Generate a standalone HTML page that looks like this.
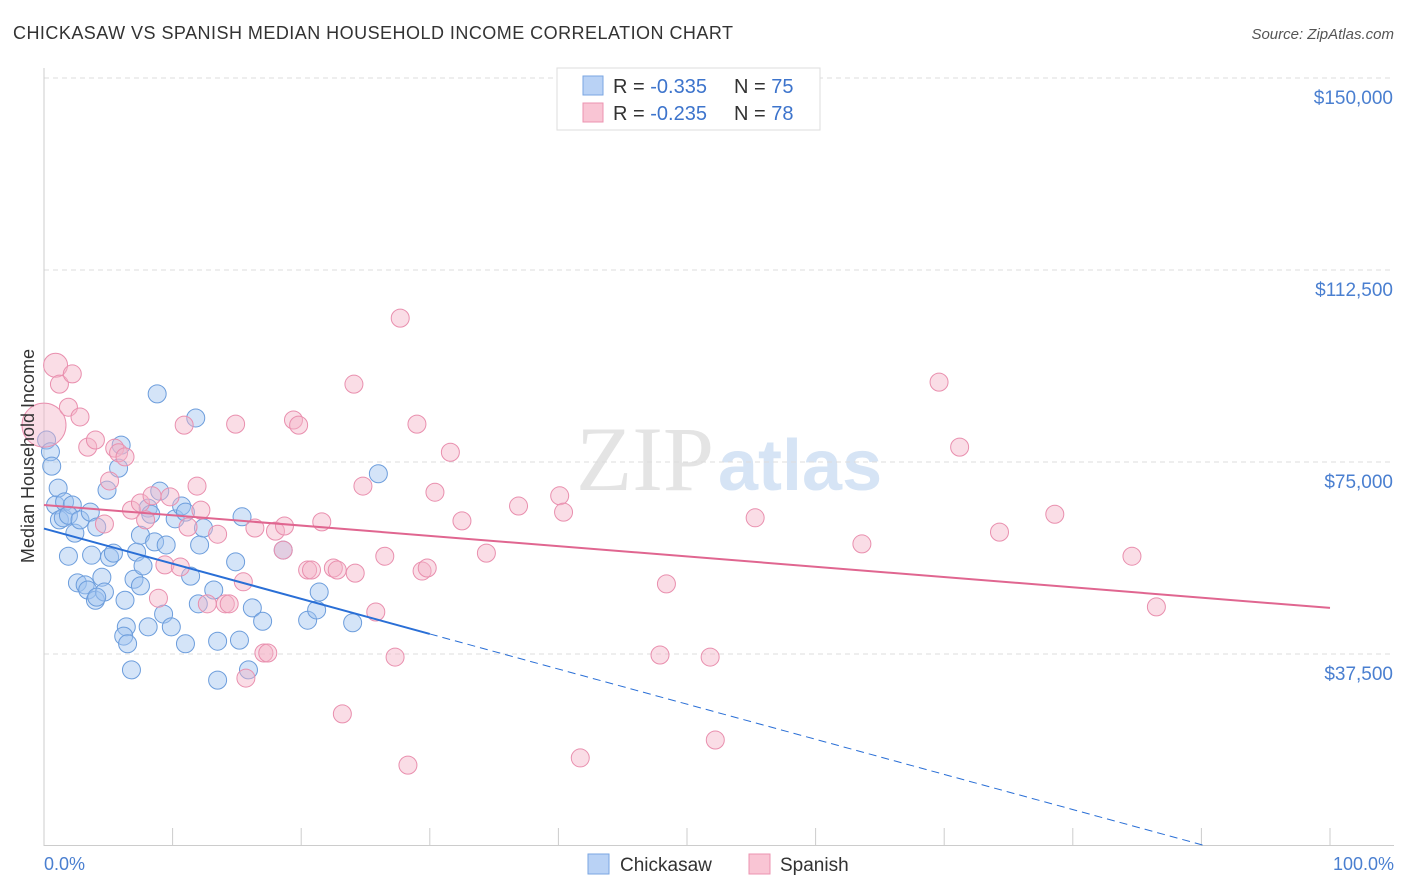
<!DOCTYPE html>
<html><head><meta charset="utf-8">
<style>
body{margin:0;background:#fff;font-family:"Liberation Sans",sans-serif;}
#wrap{position:relative;width:1406px;height:892px;overflow:hidden;}
</style></head>
<body>
<div id="wrap">
<svg id="svg" width="1406" height="892" xmlns="http://www.w3.org/2000/svg">
<text x="13" y="39" font-size="18" fill="#333" textLength="720" lengthAdjust="spacing">CHICKASAW VS SPANISH MEDIAN HOUSEHOLD INCOME CORRELATION CHART</text>
<text x="1394" y="39" font-size="15" fill="#555" font-style="italic" text-anchor="end">Source: ZipAtlas.com</text>
<text x="714" y="490" font-size="92" fill="#e4e4e4" text-anchor="end" font-family="Liberation Serif">ZIP</text>
<text x="718" y="490" font-size="72" fill="#d6e4f5" font-weight="bold">atlas</text>
<g id="grid"></g>
<g id="axes"></g>
<g id="pts"></g>
<g id="trend"></g>
<text transform="translate(34,456) rotate(-90)" font-size="18" fill="#333" text-anchor="middle">Median Household Income</text>
<text x="44" y="870" font-size="18" fill="#4a7fd0">0.0%</text>
<text x="1394" y="870" font-size="18" fill="#4a7fd0" text-anchor="end">100.0%</text>
<g>
<rect x="557" y="68" width="263" height="62" fill="#fff" stroke="#ddd"/>
<rect x="583" y="76" width="20" height="19" fill="#b9d2f5" stroke="#7aa6e2"/>
<rect x="583" y="103" width="20" height="19" fill="#f9c5d4" stroke="#ec93b0"/>
<text x="613" y="93" font-size="20" fill="#333">R = <tspan fill="#3d74cc">-0.335</tspan></text>
<text x="734" y="93" font-size="20" fill="#333">N = <tspan fill="#3d74cc">75</tspan></text>
<text x="613" y="120" font-size="20" fill="#333">R = <tspan fill="#3d74cc">-0.235</tspan></text>
<text x="734" y="120" font-size="20" fill="#333">N = <tspan fill="#3d74cc">78</tspan></text>
</g>
<g>
<rect x="588" y="854" width="21" height="20" fill="#b9d2f5" stroke="#7aa6e2"/>
<text x="620" y="871" font-size="19" fill="#333">Chickasaw</text>
<rect x="749" y="854" width="21" height="20" fill="#f9c5d4" stroke="#ec93b0"/>
<text x="780" y="871" font-size="19" fill="#333">Spanish</text>
</g>
</svg>
</div>
<script>
const yTicks=[37500,75000,112500,150000];
const yTickLabels=["$37,500","$75,000","$112,500","$150,000"];
const xTicks=[0,10,20,30,40,50,60,70,80,90,100];
const chickasawX=[0.2,0.5,0.6,1.1,0.9,1.2,1.6,1.5,2.2,1.9,2.4,2.8,3.6,4.1,1.9,3.7,2.6,3.2,3.4,4.0,4.5,4.7,4.1,4.9,5.1,5.4,5.8,6.0,6.3,6.4,6.2,6.5,6.8,7.0,7.2,7.5,7.5,7.7,8.1,8.1,8.3,8.6,8.8,9.0,9.3,9.5,9.9,10.2,10.7,11.0,11.0,11.4,11.8,12.0,12.1,12.4,13.2,13.5,13.5,14.9,15.2,15.4,15.9,16.2,17.0,18.6,20.5,21.2,21.4,24.0,26.0];
const chickasawY=[79.3,77.0,74.2,69.9,66.6,63.7,67.2,64.1,66.6,64.6,61.1,63.7,65.2,62.3,56.6,56.8,51.4,51.0,50.0,48.0,52.5,49.6,48.6,69.5,56.4,57.2,73.8,78.3,48.0,42.8,41.0,39.5,34.4,52.1,57.4,60.7,50.8,54.7,42.8,66.0,64.8,59.4,88.3,69.3,45.3,58.8,42.8,63.9,66.4,65.2,39.5,52.7,83.6,47.3,58.8,62.1,50.0,32.4,40.0,55.5,40.2,64.3,34.4,46.5,43.9,57.8,44.1,46.1,49.6,43.6,72.7];
const spanishX=[0.9,0.0,1.2,2.2,1.9,2.8,3.4,4.0,4.7,5.5,5.8,6.3,5.1,6.8,7.5,7.9,8.4,8.9,9.4,9.8,10.6,10.9,11.2,11.9,12.2,12.7,13.5,14.1,14.4,14.9,15.5,15.7,16.4,17.1,17.4,18.0,18.7,18.6,19.4,19.8,20.5,20.8,21.6,22.5,22.8,23.2,24.1,24.2,24.8,25.8,26.5,27.3,27.7,28.3,29.0,29.4,29.8,30.4,31.6,32.5,34.4,36.9,40.1,40.4,41.7,47.9,48.4,51.8,52.2,55.3,63.6,69.6,71.2,74.3,78.6,84.6,86.5];
const spanishY=[93.9,82.2,90.2,92.2,85.7,83.8,77.9,79.3,62.9,77.7,76.8,76.0,71.3,65.6,67.0,63.7,68.4,48.4,54.9,68.2,54.5,82.2,62.3,70.3,65.6,47.3,60.9,47.3,47.3,82.4,51.6,32.8,62.1,37.7,37.7,61.5,62.5,57.8,83.2,82.2,53.9,53.9,63.3,54.3,53.9,25.8,90.2,53.3,70.3,45.7,56.6,36.9,103.1,15.8,82.4,53.7,54.3,69.1,76.9,63.5,57.2,66.4,68.4,65.2,17.2,37.3,51.2,36.9,20.7,64.1,59.0,90.6,77.9,61.3,64.8,56.6,46.7];
const spanishR=[12,22];
const chickasawTrend=[62.0,-0.686];
const spanishTrend=[66.6,-0.201];
const NS="http://www.w3.org/2000/svg";
const X=p=>44+p*12.86;
function yv(k){return 846-k*192/37.5;}
function el(t,a,parent){const e=document.createElementNS(NS,t);for(const k in a)e.setAttribute(k,a[k]);document.getElementById(parent).appendChild(e);return e;}
yTicks.forEach((t,i)=>{
 const y=yv(t/1000);
 const g=el('line',{x1:44,x2:1394,y1:y,y2:y,stroke:'#ddd','stroke-dasharray':'5,4'},'grid');
 
 
 const tx=el('text',{x:1393,y:y+26,'font-size':19,fill:'#4a7fd0','text-anchor':'end'},'grid');
 tx.textContent=yTickLabels[i];
 
 
});
const tl=el('line',{x1:44,x2:1394,y1:78,y2:78,stroke:'#ddd','stroke-dasharray':'5,4'},'grid');


const ya=el('line',{x1:44,x2:44,y1:68,y2:846,stroke:'#ccc'},'axes');


const xa=el('line',{x1:44,x2:1394,y1:845.5,y2:845.5,stroke:'#ccc'},'axes');


xTicks.forEach(t=>{
 const tk=el('line',{x1:X(t),x2:X(t),y1:828,y2:846,stroke:'#ccc'},'axes');
 
 
});
chickasawX.forEach((x,i)=>{
 const c=el('circle',{cx:X(x),cy:yv(chickasawY[i]),r:9,fill:'rgba(160,195,240,0.45)',stroke:'#6c9ddc','stroke-width':1},'pts');
 
 
});
spanishX.forEach((x,i)=>{
 const r=i<spanishR.length?spanishR[i]:9;
 const c=el('circle',{cx:X(x),cy:yv(spanishY[i]),r:r,fill:'rgba(245,180,200,0.45)',stroke:'#e98fae','stroke-width':1},'pts');
 
 
});
const bx0=0,bx1=30,bxEnd=(0-chickasawTrend[0])/chickasawTrend[1];
const b1=el('line',{x1:X(bx0),y1:yv(chickasawTrend[0]),x2:X(bx1),y2:yv(chickasawTrend[0]+chickasawTrend[1]*bx1),stroke:'#2a6fd6','stroke-width':2},'trend');


const b2=el('line',{x1:X(bx1),y1:yv(chickasawTrend[0]+chickasawTrend[1]*bx1),x2:X(bxEnd),y2:yv(0),stroke:'#2a6fd6','stroke-width':1,'stroke-dasharray':'8,5'},'trend');


const p1=el('line',{x1:X(0),y1:yv(spanishTrend[0]),x2:X(100),y2:yv(spanishTrend[0]+spanishTrend[1]*100),stroke:'#e06690','stroke-width':2},'trend');


</script>
</body></html>
